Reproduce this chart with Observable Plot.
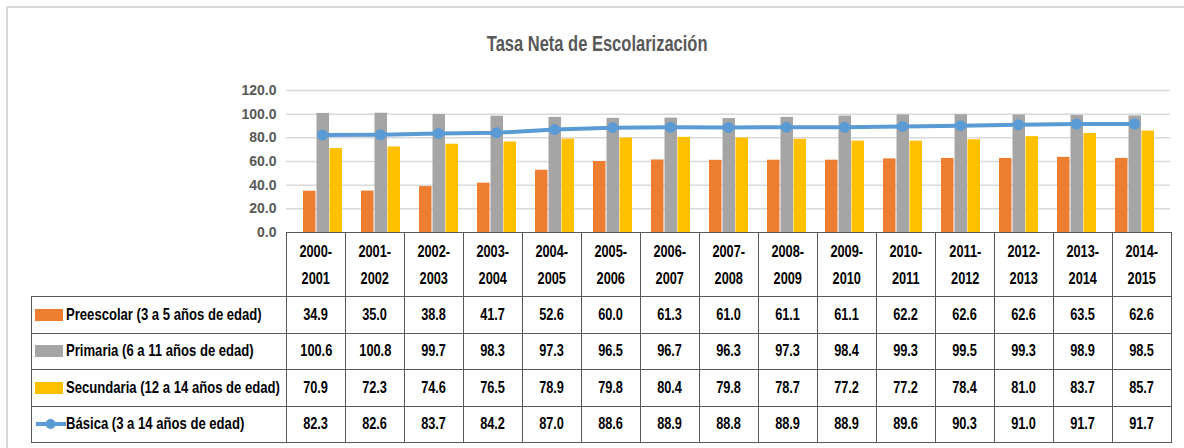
<!DOCTYPE html>
<html>
<head>
<meta charset="utf-8">
<script src="https://cdn.jsdelivr.net/npm/d3@7"></script>
<script src="https://cdn.jsdelivr.net/npm/@observablehq/plot@0.6"></script>
<style>
  html, body { margin: 0; padding: 0; background: #fff; }
  body { width: 1184px; height: 448px; position: relative; overflow: hidden;
         font-family: "Liberation Sans", Arial, sans-serif; }
  #frame { position: absolute; left: 6px; top: 6px; width: 1200px; height: 460px;
           border-left: 2px solid #d9d9d9; border-top: 2px solid #d9d9d9; }
  #title { position: absolute; left: 0; width: 1194px; top: 31px; text-align: center;
           font-size: 22px; color: #595959; font-weight: bold; }
  .sq { display: inline-block; transform: scaleX(0.75); transform-origin: center center; white-space: nowrap; }
  .sql { display: inline-block; transform: scaleX(0.77); transform-origin: left center; white-space: nowrap; }
  #chart { position: absolute; left: 0; top: 70px; }
  #tbl { position: absolute; left: 31px; top: 232px; border-collapse: collapse; table-layout: fixed;
         width: 1140px; font-size: 17px; color: #000; font-weight: bold; }
  #tbl td { padding: 0; text-align: center; border: 1px solid #595959; white-space: nowrap; overflow: visible; }
  #tbl tr.hdr td { height: 63px; line-height: 27px; }
  #tbl tr.hdr td.blank { border: none; border-right: 1px solid #595959; }
  #tbl tr.row td { height: 35.5px; }
  #tbl td.lab { text-align: left; padding-left: 3px; }
  .sw { display: inline-block; width: 28px; height: 12px; vertical-align: -1px; margin-right: 3px; }
</style>
</head>
<body>
<div id="frame"></div>
<div id="title"><span class="sq">Tasa Neta de Escolarización</span></div>
<div id="chart"></div>
<table id="tbl"></table>
<script>
const years = ["2000-2001","2001-2002","2002-2003","2003-2004","2004-2005","2005-2006","2006-2007","2007-2008","2008-2009","2009-2010","2010-2011","2011-2012","2012-2013","2013-2014","2014-2015"];
const preescolar = [34.9,35.0,38.8,41.7,52.6,60.0,61.3,61.0,61.1,61.1,62.2,62.6,62.6,63.5,62.6];
const primaria = [100.6,100.8,99.7,98.3,97.3,96.5,96.7,96.3,97.3,98.4,99.3,99.5,99.3,98.9,98.5];
const secundaria = [70.9,72.3,74.6,76.5,78.9,79.8,80.4,79.8,78.7,77.2,77.2,78.4,81.0,83.7,85.7];
const basica = [82.3,82.6,83.7,84.2,87.0,88.6,88.9,88.8,88.9,88.9,89.6,90.3,91.0,91.7,91.7];
const seriesNames = ["Preescolar (3 a 5 años de edad)","Primaria (6 a 11 años de edad)","Secundaria (12 a 14 años de edad)","Básica (3 a 14 años de edad)"];
const colors = ["#ED7D31","#A5A5A5","#FFC000","#5B9BD5"];
const yTicks = [0,20,40,60,80,100,120];

const mk = arr => years.map((y,i) => ({year: y, value: arr[i]}));
const dPre = mk(preescolar), dPri = mk(primaria), dSec = mk(secundaria), dBas = mk(basica);

const chart = Plot.plot({
  width: 1184,
  height: 172,
  marginLeft: 286,
  marginRight: 14,
  marginTop: 20,
  marginBottom: 10,
  style: {fontFamily: '"Liberation Sans", Arial, sans-serif', fontSize: "14px", fontWeight: "bold", color: "#595959", background: "transparent", overflow: "visible"},
  x: {type: "band", domain: years, padding: 0, axis: null},
  y: {domain: [0,120], ticks: yTicks, tickFormat: d3.format(".1f"), tickSize: 0, tickPadding: 10, label: null},
  marks: [
    Plot.gridY(yTicks.filter(t => t > 0), {stroke: "#d9d9d9", strokeOpacity: 1, strokeWidth: 1.5}),
    Plot.barY(dPre, {x: "year", y: "value", fill: colors[0], insetLeft: 10, insetRight: 35.5}),
    Plot.barY(dPri, {x: "year", y: "value", fill: colors[1], insetLeft: 23.5, insetRight: 22}),
    Plot.barY(dSec, {x: "year", y: "value", fill: colors[2], insetLeft: 36.5, insetRight: 9}),
    Plot.lineY(dBas, {x: "year", y: "value", stroke: colors[3], strokeWidth: 4}),
    Plot.dot(dBas, {x: "year", y: "value", fill: colors[3], r: 5.5})
  ]
});
document.getElementById("chart").appendChild(chart);

// data table
const tbl = document.getElementById("tbl");
const colg = document.createElement("colgroup");
let c0 = document.createElement("col"); c0.style.width = "255px"; colg.appendChild(c0);
years.forEach(() => { const c = document.createElement("col"); c.style.width = "59px"; colg.appendChild(c); });
tbl.appendChild(colg);
const hdr = document.createElement("tr"); hdr.className = "hdr";
const blank = document.createElement("td"); blank.className = "blank"; hdr.appendChild(blank);
years.forEach(y => { const td = document.createElement("td"); const [a,b] = y.split("-"); td.innerHTML = `<span class="sq">${a}-<br>${b}</span>`; hdr.appendChild(td); });
tbl.appendChild(hdr);
const allVals = [preescolar, primaria, secundaria, basica];
seriesNames.forEach((name, si) => {
  const tr = document.createElement("tr"); tr.className = "row";
  const lab = document.createElement("td"); lab.className = "lab";
  let sw;
  if (si < 3) {
    sw = `<span class="sw" style="background:${colors[si]}"></span>`;
  } else {
    sw = `<svg width="31" height="12" style="vertical-align:-1px;margin-right:0px"><line x1="1" x2="31" y1="6" y2="6" stroke="${colors[3]}" stroke-width="4"/><circle cx="15.5" cy="6" r="5" fill="${colors[3]}"/></svg>`;
  }
  lab.innerHTML = sw + `<span class="sql">${name}</span>`;
  tr.appendChild(lab);
  allVals[si].forEach(v => { const td = document.createElement("td"); td.innerHTML = `<span class="sq">${v.toFixed(1)}</span>`; tr.appendChild(td); });
  tbl.appendChild(tr);
});
</script>
</body>
</html>
